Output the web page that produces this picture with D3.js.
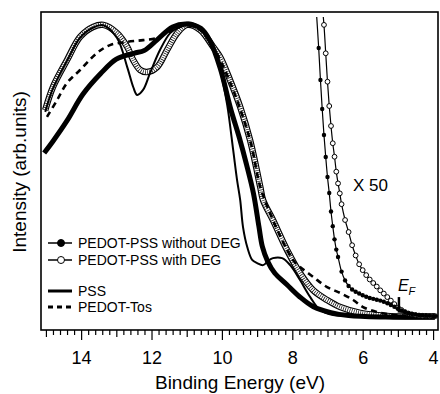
<!DOCTYPE html>
<html>
<head>
<meta charset="utf-8">
<script src="https://cdn.jsdelivr.net/npm/d3@7"></script>
<style>
body { margin: 0; background: #fff; }
text { font-family: "Liberation Sans", Arial, sans-serif; fill: #000; }
</style>
</head>
<body>
<div id="chart-area"></div>
<script>

var width = 440, height = 394;
var frame = { left: 41, top: 12, right: 438, bottom: 330 };

// PEDOT-PSS without DEG (filled circles), binding energy (eV) / intensity (% of peak)
var withoutE = [15.05, 14.8, 14.4, 13.95, 13.45, 13.0, 12.5, 12.2, 11.85, 11.4, 11.0, 10.6, 10.35, 10.05, 9.75, 9.5, 9.3, 9.1, 8.95, 8.85, 8.7, 8.5, 8.15, 7.8, 7.4, 6.9, 6.4, 5.5, 4.5, 3.95];
var withoutI = [56, 60, 67, 76, 83, 88, 90, 91, 94.5, 99, 100, 98.5, 94.5, 85, 71, 61, 52, 42, 31, 24, 19, 15, 11, 7, 3.5, 1.5, 0.5, 0, 0, 0];

// PEDOT-PSS with DEG (open circles)
var withE = [15.02, 14.8, 14.4, 14.03, 13.66, 13.37, 12.98, 12.69, 12.52, 12.32, 12.13, 11.84, 11.56, 11.27, 10.99, 10.62, 10.25, 10.05, 9.77, 9.48, 9.2, 8.91, 8.83, 8.55, 8.15, 7.78, 7.41, 7.01, 6.64, 6.07, 5.22, 4.5, 3.95];
var withI = [70.6, 78.5, 87.7, 95.6, 99, 99.7, 96.9, 92.2, 87.7, 84.3, 83.6, 85.3, 91.1, 96.9, 99.7, 98, 92.2, 88.7, 80.9, 71.7, 60.4, 44.4, 39.9, 33.1, 22.9, 15, 9.2, 5.8, 3.4, 1.4, 0.3, 0.2, 0.2];

// PSS (solid line)
var pssE = [15.02, 14.8, 14.4, 14.03, 13.66, 13.37, 12.98, 12.69, 12.52, 12.41, 12.24, 12.04, 11.76, 11.47, 11.19, 10.99, 10.62, 10.25, 10.05, 9.85, 9.68, 9.57, 9.48, 9.4, 9.28, 9.14, 9.0, 8.83, 8.69, 8.55, 8.29, 8.06, 7.78, 7.49, 7.21, 6.84, 6.07, 5.0, 3.95];
var pssI = [70, 78, 87.5, 95.3, 98.8, 99.6, 95.2, 85.3, 78.5, 75.8, 77.5, 83.3, 91.1, 96.9, 99, 99.7, 98.6, 92.2, 84.3, 72.4, 57, 46.8, 39.9, 30.7, 23.9, 19.5, 18.4, 17.7, 19.1, 20.1, 20.1, 17.7, 12.6, 6.8, 2.4, 0.7, 0.3, 0.1, 0.1];

// PEDOT-Tos (dashed line)
var tosE = [14.97, 14.68, 14.4, 14.03, 13.55, 13.18, 12.69, 12.24, 11.84, 11.56, 11.27, 10.99, 10.62, 10.25, 9.77, 9.2, 8.91, 8.55, 8.15, 7.95, 7.78, 7.41, 7.01, 6.64, 6.27, 5.99, 5.59, 5.08, 4.37, 3.95];
var tosI = [68.3, 74.1, 79.9, 84.3, 90.1, 92.8, 93.9, 94.5, 95.2, 96.9, 98.6, 99.7, 98, 92.2, 80.2, 60.4, 44.4, 33.1, 22.9, 19.0, 17.1, 13.7, 10.2, 8.2, 5.8, 3.4, 1.7, 0.7, 0.3, 0.2];

// X 50 onset region, without DEG
var without50E = [7.32, 7.25, 7.20, 7.15, 7.10, 7.05, 7.00, 6.95, 6.90, 6.85, 6.80, 6.75, 6.70, 6.60, 6.50, 6.40, 6.30, 6.20, 6.10, 6.00, 5.90, 5.80, 5.70, 5.60, 5.50, 5.40, 5.30, 5.20, 5.10, 5.00, 4.90, 4.80, 4.70, 4.60, 4.50, 4.40, 4.30, 4.20, 4.10, 4.00, 3.94];
var without50I = [105, 91.8, 80.9, 71.0, 62.1, 54.6, 47.8, 42.3, 36.0, 31.0, 26.5, 23.0, 20.5, 15.5, 12.5, 10.6, 9.4, 8.6, 8.0, 7.4, 6.9, 6.5, 6.2, 5.9, 5.6, 5.2, 4.7, 4.1, 3.5, 2.8, 2.2, 1.7, 1.3, 1.0, 0.8, 0.6, 0.5, 0.4, 0.4, 0.3, 0.3];

// X 50 onset region, with DEG
var with50E = [7.14, 7.10, 7.05, 7.00, 6.95, 6.90, 6.85, 6.80, 6.75, 6.70, 6.65, 6.60, 6.50, 6.40, 6.30, 6.20, 6.10, 6.00, 5.90, 5.80, 5.70, 5.60, 5.50, 5.40, 5.30, 5.20, 5.10, 5.00, 4.90, 4.80, 4.70, 4.60, 4.50, 4.40, 4.30, 4.20, 4.10, 4.00, 3.94];
var with50I = [105, 99.7, 90.0, 80.3, 72.0, 65.2, 59.3, 54.7, 49.6, 45.6, 42.2, 38.5, 33.1, 29.0, 24.5, 21.0, 18.0, 16.0, 14.3, 12.8, 11.6, 10.4, 9.1, 8.0, 6.8, 5.6, 4.4, 3.2, 2.4, 1.7, 1.2, 0.9, 0.7, 0.5, 0.4, 0.4, 0.3, 0.3, 0.3];

var fermiEnergy = 4.97;

var majorTicks = [14, 12, 10, 8, 6, 4];
var midTicks = [15, 13, 11, 9, 7, 5];

var legendLabels = ["PEDOT-PSS without DEG", "PEDOT-PSS with DEG", "PSS", "PEDOT-Tos"];

function zip(es, is) {
	return es.map(function(e, k){ return { e: e, i: is[k] }; });
}

var svg = d3.select("#chart-area")
	.append("svg")
		.attr("width", width)
		.attr("height", height);

var x = d3.scaleLinear()
	.domain([15.14, 3.86])
	.range([frame.left, frame.right]);

var y = d3.scaleLinear()
	.domain([0, 100])
	.range([317, 24]);

svg.append("clipPath")
	.attr("id", "plot-clip")
	.append("rect")
		.attr("x", frame.left)
		.attr("y", 17)
		.attr("width", frame.right - frame.left)
		.attr("height", frame.bottom - 17);

var line = d3.line()
	.x(function(d){ return x(d.e); })
	.y(function(d){ return y(d.i); })
	.curve(d3.curveCatmullRom.alpha(0.5));

var plot = svg.append("g").attr("clip-path", "url(#plot-clip)");

// open circles (dense chain)
var withPath = line(zip(withE, withI));
plot.append("path").attr("d", withPath)
	.attr("fill", "none").attr("stroke", "#000").attr("stroke-width", 6.5);
plot.append("path").attr("d", withPath)
	.attr("fill", "none").attr("stroke", "#fff").attr("stroke-width", 4.2);
plot.append("path").attr("d", withPath)
	.attr("fill", "none").attr("stroke", "#000").attr("stroke-width", 4.2)
	.attr("stroke-dasharray", "0.7,1.5");

// filled circles (dense chain)
plot.append("path").attr("d", line(zip(withoutE, withoutI)))
	.attr("fill", "none").attr("stroke", "#000").attr("stroke-width", 5)
	.attr("stroke-linejoin", "round");

// PEDOT-Tos
plot.append("path").attr("d", line(zip(tosE, tosI)))
	.attr("fill", "none").attr("stroke", "#000").attr("stroke-width", 2.6)
	.attr("stroke-dasharray", "6,4.5");

// PSS
plot.append("path").attr("d", line(zip(pssE, pssI)))
	.attr("fill", "none").attr("stroke", "#000").attr("stroke-width", 2);

// X 50 curves
var with50 = zip(with50E, with50I);
var without50 = zip(without50E, without50I);

plot.append("path").attr("d", line(with50))
	.attr("fill", "none").attr("stroke", "#000").attr("stroke-width", 1.2);
plot.append("path").attr("d", line(without50))
	.attr("fill", "none").attr("stroke", "#000").attr("stroke-width", 1.2);

plot.selectAll("circle.open50")
	.data(with50)
	.enter().append("circle")
		.attr("class", "open50")
		.attr("cx", function(d){ return x(d.e); })
		.attr("cy", function(d){ return y(d.i); })
		.attr("r", 2.4)
		.attr("fill", "#fff")
		.attr("stroke", "#000")
		.attr("stroke-width", 1);

plot.selectAll("circle.fill50")
	.data(without50)
	.enter().append("circle")
		.attr("class", "fill50")
		.attr("cx", function(d){ return x(d.e); })
		.attr("cy", function(d){ return y(d.i); })
		.attr("r", 2.2)
		.attr("fill", "#000");

// Fermi level mark
svg.append("line")
	.attr("x1", x(fermiEnergy)).attr("x2", x(fermiEnergy))
	.attr("y1", y(6.8)).attr("y2", y(1.5))
	.attr("stroke", "#000").attr("stroke-width", 2.5);

var ef = svg.append("text")
	.attr("x", x(fermiEnergy) - 1)
	.attr("y", 291)
	.attr("font-size", "16px")
	.attr("font-style", "italic");
ef.append("tspan").text("E");
ef.append("tspan").attr("font-size", "11px").attr("dy", 4).text("F");

svg.append("text")
	.attr("x", 353)
	.attr("y", 191)
	.attr("font-size", "17px")
	.text("X 50");

// frame
svg.append("rect")
	.attr("x", frame.left)
	.attr("y", frame.top)
	.attr("width", frame.right - frame.left)
	.attr("height", frame.bottom - frame.top)
	.attr("fill", "none")
	.attr("stroke", "#000")
	.attr("stroke-width", 1.6);

// X axis ticks
var minorTicks = d3.range(4, 15.1, 0.2).filter(function(v){
	return Math.abs(v - Math.round(v)) > 0.01;
});

var minorAxis = svg.append("g")
	.attr("transform", "translate(0," + frame.bottom + ")")
	.call(d3.axisBottom(x).tickValues(minorTicks).tickSize(5).tickFormat(""));
var midAxis = svg.append("g")
	.attr("transform", "translate(0," + frame.bottom + ")")
	.call(d3.axisBottom(x).tickValues(midTicks).tickSize(7).tickFormat(""));
var majorAxis = svg.append("g")
	.attr("transform", "translate(0," + frame.bottom + ")")
	.call(d3.axisBottom(x).tickValues(majorTicks).tickSize(10).tickPadding(11)
		.tickFormat(function(d){ return d; }));

[minorAxis, midAxis, majorAxis].forEach(function(a){
	a.select(".domain").remove();
	a.selectAll("line").attr("stroke", "#000").attr("stroke-width", 1.2);
});
majorAxis.selectAll("text")
	.attr("font-size", "18px")
	.attr("font-family", "\"Liberation Sans\", Arial, sans-serif")
	.attr("fill", "#000");

// axis titles
svg.append("text")
	.attr("x", 240)
	.attr("y", 389)
	.attr("font-size", "19px")
	.attr("text-anchor", "middle")
	.text("Binding Energy (eV)");

svg.append("text")
	.attr("transform", "translate(26," + 172 + ") rotate(-90)")
	.attr("font-size", "19px")
	.attr("text-anchor", "middle")
	.text("Intensity (arb.units)");

// legend
var legendY = [243, 260, 291, 307];
var legend = svg.append("g");

legendLabels.forEach(function(label, k){
	var row = legend.append("g").attr("transform", "translate(0," + legendY[k] + ")");
	var ln = row.append("line")
		.attr("x1", 48).attr("x2", 72)
		.attr("stroke", "#000");
	if (k < 2) {
		ln.attr("stroke-width", 1.5);
		row.append("circle")
			.attr("cx", 61)
			.attr("r", 3.5)
			.attr("fill", k == 0 ? "#000" : "#fff")
			.attr("stroke", "#000")
			.attr("stroke-width", 1);
	} else {
		ln.attr("stroke-width", 3);
		if (k == 3) ln.attr("stroke-dasharray", "5,4");
	}
	row.append("text")
		.attr("x", 78)
		.attr("dy", "0.36em")
		.attr("font-size", "14px")
		.text(label);
});

</script>
</body>
</html>
